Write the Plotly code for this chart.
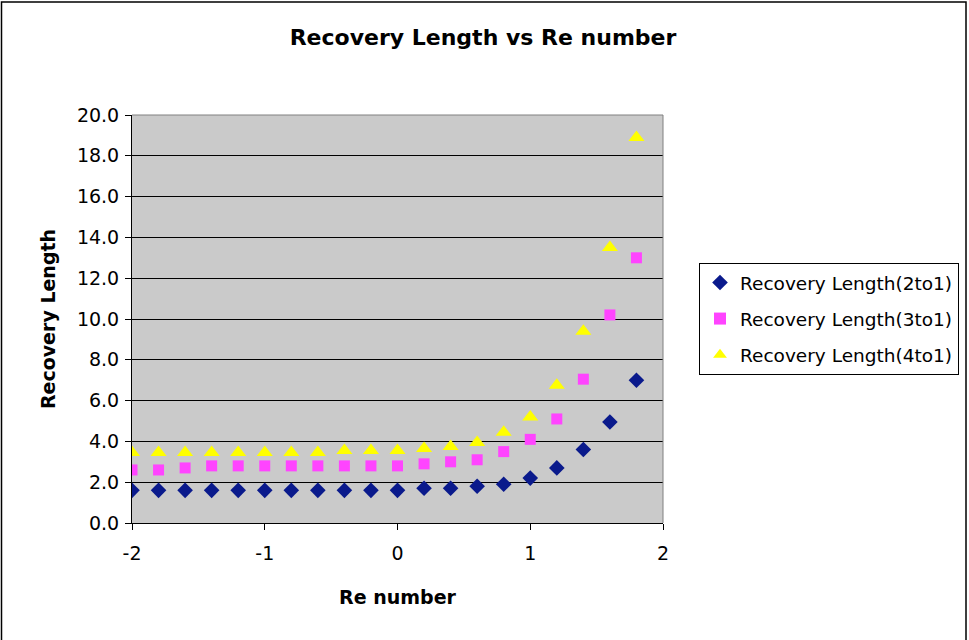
import plotly.graph_objects as go

re_number = [-2.0, -1.8, -1.6, -1.4, -1.2, -1.0, -0.8, -0.6, -0.4, -0.2,
             0.0, 0.2, 0.4, 0.6, 0.8, 1.0, 1.2, 1.4, 1.6, 1.8]
rl_2to1 = [1.6, 1.6, 1.6, 1.6, 1.6, 1.6, 1.6, 1.6, 1.6, 1.6,
           1.6, 1.7, 1.7, 1.8, 1.9, 2.2, 2.7, 3.6, 4.95, 7.0]
rl_3to1 = [2.6, 2.6, 2.7, 2.8, 2.8, 2.8, 2.8, 2.8, 2.8, 2.8,
           2.8, 2.9, 3.0, 3.1, 3.5, 4.1, 5.1, 7.05, 10.2, 13.0]
rl_4to1 = [3.45, 3.45, 3.45, 3.45, 3.45, 3.45, 3.45, 3.45, 3.55, 3.55,
           3.55, 3.65, 3.75, 3.95, 4.45, 5.2, 6.75, 9.4, 13.5, 18.9]
y_ticks = [0, 2, 4, 6, 8, 10, 12, 14, 16, 18, 20]
x_ticks = [-2, -1, 0, 1, 2]

FONT = "DejaVu Sans, Arial, sans-serif"

fig = go.Figure()
fig.add_trace(go.Scatter(x=re_number, y=rl_2to1, mode="markers",
                         name="Recovery Length(2to1)", legendgroup="a",
                         marker=dict(symbol="diamond", size=12, color="#0A1A8C")))
fig.add_trace(go.Scatter(x=re_number, y=rl_3to1, mode="markers",
                         name="Recovery Length(3to1)", legendgroup="b",
                         marker=dict(symbol="square", size=11, color="#FF44FF")))
fig.add_trace(go.Scatter(x=re_number, y=rl_4to1, mode="markers",
                         name="Recovery Length(4to1)", legendgroup="c",
                         marker=dict(symbol="triangle-up", size=14, color="#FFFF00")))

L, R, T, B = 132, 306, 115, 117
W, H = 969, 640
pw, ph = W - L - R, H - T - B


def px(x):
    return (x - L) / pw


def py(y):
    return (H - B - y) / ph


fig.update_layout(
    width=W, height=H,
    margin=dict(l=L, r=R, t=T, b=B, autoexpand=False),
    paper_bgcolor="white",
    plot_bgcolor="#CACACA",
    font=dict(family=FONT, size=19, color="black"),
    title=dict(text="<b>Recovery Length vs Re number</b>", x=483 / W, xanchor="center",
               y=1 - 37 / H, yanchor="middle", font=dict(size=22)),
    showlegend=True,
    legend=dict(x=px(699), xanchor="left", y=py(319), yanchor="middle",
                bgcolor="white", bordercolor="black", borderwidth=1,
                font=dict(size=18.5), itemsizing="constant",
                tracegroupgap=9, itemwidth=30),
    xaxis=dict(range=[-2, 2], tickvals=x_ticks, ticktext=[str(v) for v in x_ticks],
               showgrid=False, zeroline=False, showline=True, linecolor="black",
               linewidth=1, ticks="outside", ticklen=6, tickcolor="black",
               ticklabelstandoff=7,
               title=dict(text="<b>Re number</b>", font=dict(size=19), standoff=27)),
    yaxis=dict(range=[0, 20], tickvals=y_ticks, ticktext=[f"{v:.1f}" for v in y_ticks],
               showgrid=True, gridcolor="black", gridwidth=1, zeroline=False,
               showline=True, linecolor="black", linewidth=1, ticks="outside",
               ticklen=6, tickcolor="black", ticklabelstandoff=2,
               title=dict(text="<b>Recovery Length</b>", font=dict(size=19), standoff=16)),
    shapes=[
        dict(type="line", xref="paper", yref="paper", x0=1, x1=1, y0=0, y1=1,
             line=dict(color="#808080", width=1), layer="above"),
        dict(type="line", xref="paper", yref="paper", x0=0, x1=1, y0=1, y1=1,
             line=dict(color="#808080", width=1), layer="above"),
        dict(type="rect", xref="paper", yref="paper",
             x0=px(1.5), x1=px(966), y0=py(650), y1=py(2),
             line=dict(color="black", width=1.5)),
    ],
)
fig.write_html("out.html")
